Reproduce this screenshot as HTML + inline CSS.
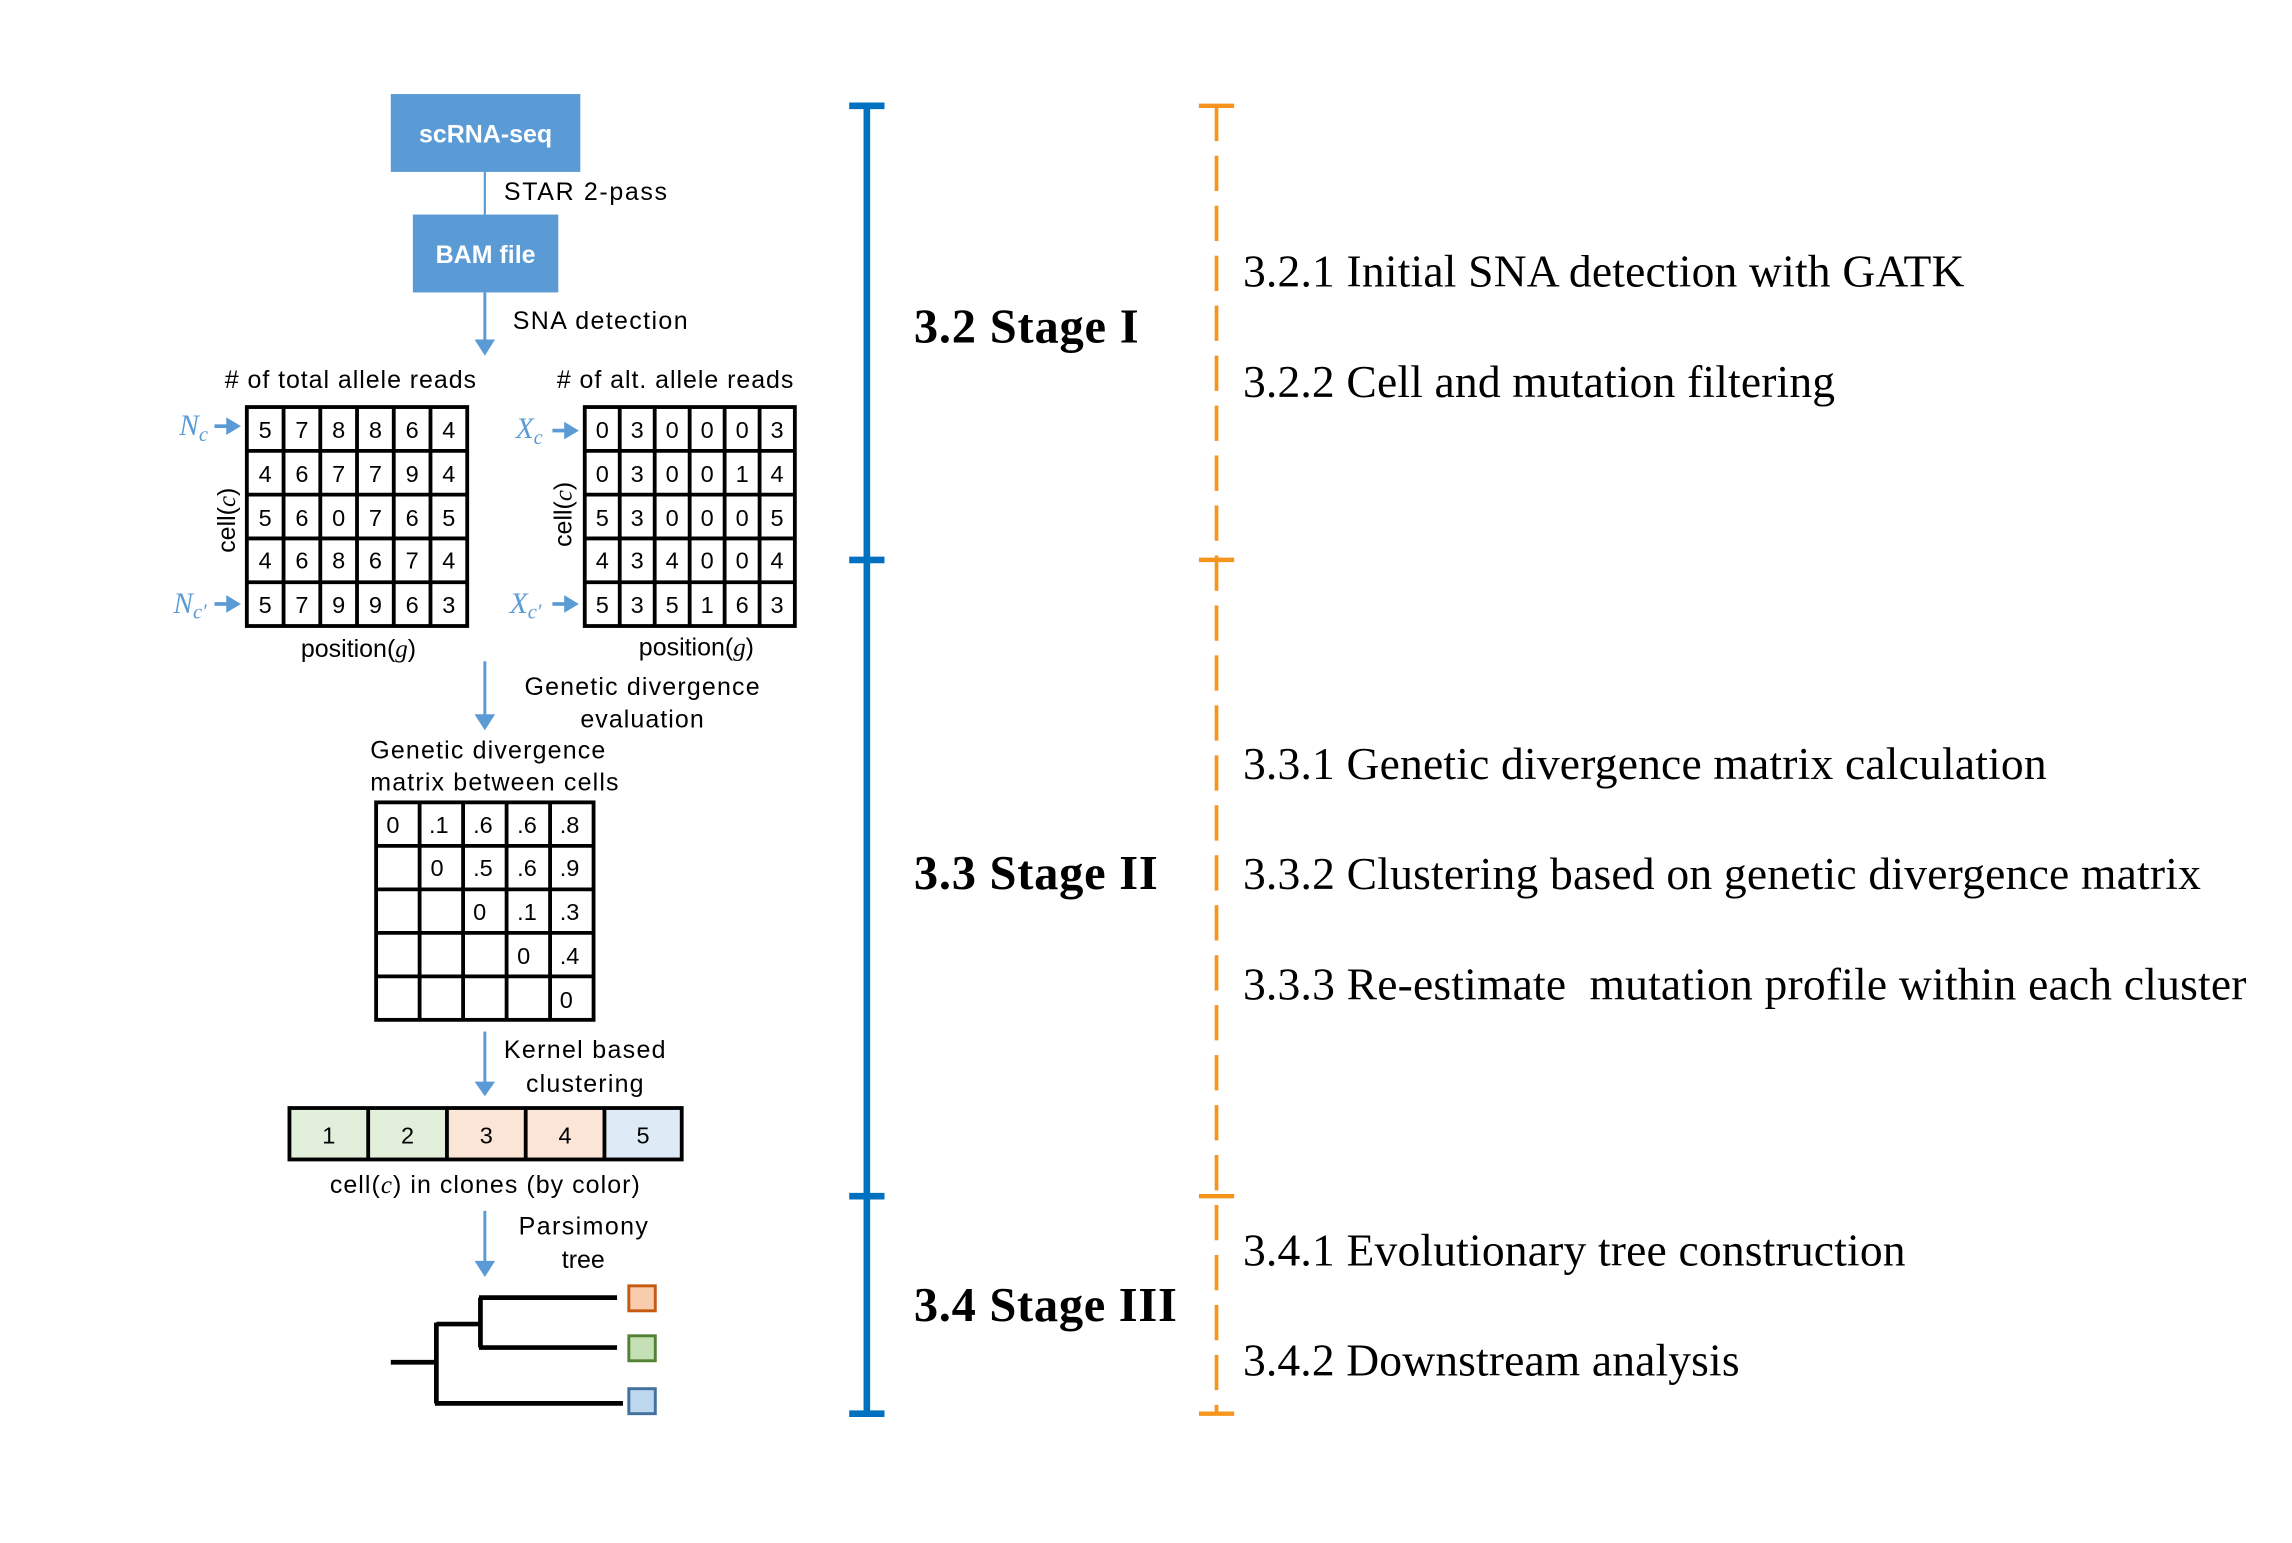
<!DOCTYPE html>
<html><head><meta charset="utf-8"><style>
html,body{margin:0;padding:0;background:#fff;width:2292px;height:1543px;overflow:hidden}
svg{display:block}
.s{font-family:"Liberation Sans",sans-serif;fill:#000}
.d{font-family:"Liberation Sans",sans-serif;font-size:16px;fill:#000;text-anchor:middle}
.r{font-family:"Liberation Serif",serif;fill:#000}
.b{font-family:"Liberation Serif",serif;font-weight:bold;fill:#000}
.m{font-family:"Liberation Serif",serif;font-style:italic;fill:#5b9bd5}
</style></head><body>
<svg width="2292" height="1543" viewBox="0 0 1560 1050" preserveAspectRatio="none" xmlns="http://www.w3.org/2000/svg">
<rect x="266" y="64" width="129" height="53" fill="#5b9bd5"/>
<text x="330.5" y="97" class="s" font-size="17" font-weight="bold" style="fill:#fff" text-anchor="middle">scRNA-seq</text>
<line x1="330" y1="117" x2="330" y2="146" stroke="#5b9bd5" stroke-width="1.5"/>
<text x="343" y="136" class="s" font-size="17" textLength="111">STAR 2-pass</text>
<rect x="281" y="146" width="99" height="53" fill="#5b9bd5"/>
<text x="330.5" y="179" class="s" font-size="17" font-weight="bold" style="fill:#fff" text-anchor="middle">BAM file</text>
<line x1="330" y1="199" x2="330" y2="234" stroke="#5b9bd5" stroke-width="2"/>
<polygon points="323,231 337,231 330,242" fill="#5b9bd5"/>
<text x="349" y="224" class="s" font-size="17" textLength="119">SNA detection</text>

<text x="153" y="264" class="s" font-size="17" textLength="171">&#35; of total allele reads</text>
<text x="379" y="264" class="s" font-size="17" textLength="161"># of alt. allele reads</text>

<g stroke="#000" stroke-width="2.6" fill="none">
<rect x="168" y="277" width="150" height="149" fill="#fff"/>
<path d="M193,277V426M218,277V426M243,277V426M268,277V426M293,277V426M168,306.8H318M168,336.6H318M168,366.4H318M168,396.2H318"/>
<rect x="398" y="277" width="143" height="149" fill="#fff"/>
<path d="M421.8,277V426M445.6,277V426M469.4,277V426M493.2,277V426M517,277V426M398,306.8H541M398,336.6H541M398,366.4H541M398,396.2H541"/>
</g>
<g class="d">
<text x="180.5" y="298">5</text><text x="205.5" y="298">7</text><text x="230.5" y="298">8</text><text x="255.5" y="298">8</text><text x="280.5" y="298">6</text><text x="305.5" y="298">4</text>
<text x="180.5" y="328">4</text><text x="205.5" y="328">6</text><text x="230.5" y="328">7</text><text x="255.5" y="328">7</text><text x="280.5" y="328">9</text><text x="305.5" y="328">4</text>
<text x="180.5" y="358">5</text><text x="205.5" y="358">6</text><text x="230.5" y="358">0</text><text x="255.5" y="358">7</text><text x="280.5" y="358">6</text><text x="305.5" y="358">5</text>
<text x="180.5" y="387">4</text><text x="205.5" y="387">6</text><text x="230.5" y="387">8</text><text x="255.5" y="387">6</text><text x="280.5" y="387">7</text><text x="305.5" y="387">4</text>
<text x="180.5" y="417">5</text><text x="205.5" y="417">7</text><text x="230.5" y="417">9</text><text x="255.5" y="417">9</text><text x="280.5" y="417">6</text><text x="305.5" y="417">3</text>
<text x="409.9" y="298">0</text><text x="433.7" y="298">3</text><text x="457.5" y="298">0</text><text x="481.3" y="298">0</text><text x="505.1" y="298">0</text><text x="528.9" y="298">3</text>
<text x="409.9" y="328">0</text><text x="433.7" y="328">3</text><text x="457.5" y="328">0</text><text x="481.3" y="328">0</text><text x="505.1" y="328">1</text><text x="528.9" y="328">4</text>
<text x="409.9" y="358">5</text><text x="433.7" y="358">3</text><text x="457.5" y="358">0</text><text x="481.3" y="358">0</text><text x="505.1" y="358">0</text><text x="528.9" y="358">5</text>
<text x="409.9" y="387">4</text><text x="433.7" y="387">3</text><text x="457.5" y="387">4</text><text x="481.3" y="387">0</text><text x="505.1" y="387">0</text><text x="528.9" y="387">4</text>
<text x="409.9" y="417">5</text><text x="433.7" y="417">3</text><text x="457.5" y="417">5</text><text x="481.3" y="417">1</text><text x="505.1" y="417">6</text><text x="528.9" y="417">3</text>
</g>
<text class="m" x="122" y="296" font-size="20">N<tspan font-size="14" dy="4">c</tspan></text>
<line x1="146" y1="290" x2="156" y2="290" stroke="#5b9bd5" stroke-width="2.5"/><polygon points="154,284 164,290 154,296" fill="#5b9bd5"/>
<text class="m" x="118" y="417" font-size="20">N<tspan font-size="14" dy="4">c′</tspan></text>
<line x1="146" y1="411" x2="156" y2="411" stroke="#5b9bd5" stroke-width="2.5"/><polygon points="154,405 164,411 154,417" fill="#5b9bd5"/>
<text class="m" x="351" y="298" font-size="20">X<tspan font-size="14" dy="4">c</tspan></text>
<line x1="376" y1="293" x2="386" y2="293" stroke="#5b9bd5" stroke-width="2.5"/><polygon points="384,287 394,293 384,299" fill="#5b9bd5"/>
<text class="m" x="347" y="417" font-size="20">X<tspan font-size="14" dy="4">c′</tspan></text>
<line x1="376" y1="411" x2="386" y2="411" stroke="#5b9bd5" stroke-width="2.5"/><polygon points="384,405 394,411 384,417" fill="#5b9bd5"/>
<text class="s" font-size="17" transform="translate(160,354) rotate(-90)" text-anchor="middle">cell(<tspan font-style="italic" font-family="Liberation Serif">c</tspan>)</text>
<text class="s" font-size="17" transform="translate(389,350) rotate(-90)" text-anchor="middle">cell(<tspan font-style="italic" font-family="Liberation Serif">c</tspan>)</text>
<text class="s" x="244" y="447" font-size="17" text-anchor="middle">position(<tspan font-style="italic" font-family="Liberation Serif">g</tspan>)</text>
<text class="s" x="474" y="446" font-size="17" text-anchor="middle">position(<tspan font-style="italic" font-family="Liberation Serif">g</tspan>)</text>

<line x1="330" y1="450" x2="330" y2="488" stroke="#5b9bd5" stroke-width="2"/>
<polygon points="323,486 337,486 330,497" fill="#5b9bd5"/>
<text class="s" x="437" y="473" font-size="17" text-anchor="middle" textLength="160">Genetic divergence</text>
<text class="s" x="437" y="495" font-size="17" text-anchor="middle" textLength="84">evaluation</text>
<text class="s" x="252" y="516" font-size="17" textLength="160">Genetic divergence</text>
<text class="s" x="252" y="538" font-size="17" textLength="169">matrix between cells</text>

<g stroke="#000" stroke-width="2.6" fill="none">
<rect x="256" y="546" width="148" height="148" fill="#fff"/>
<path d="M285.6,546V694M315.2,546V694M344.8,546V694M374.4,546V694M256,575.6H404M256,605.2H404M256,634.8H404M256,664.4H404"/>
</g>
<g class="d" style="text-anchor:start">
<text x="263" y="567">0</text><text x="292" y="567">.1</text><text x="322" y="567">.6</text><text x="352" y="567">.6</text><text x="381" y="567">.8</text>
<text x="293" y="596">0</text><text x="322" y="596">.5</text><text x="352" y="596">.6</text><text x="381" y="596">.9</text>
<text x="322" y="626">0</text><text x="352" y="626">.1</text><text x="381" y="626">.3</text>
<text x="352" y="656">0</text><text x="381" y="656">.4</text>
<text x="381" y="686">0</text>
</g>

<line x1="330" y1="702" x2="330" y2="738" stroke="#5b9bd5" stroke-width="2"/>
<polygon points="323,736 337,736 330,746" fill="#5b9bd5"/>
<text class="s" x="398" y="720" font-size="17" text-anchor="middle" textLength="110">Kernel based</text>
<text class="s" x="398" y="743" font-size="17" text-anchor="middle" textLength="80">clustering</text>

<rect x="197" y="754" width="53.6" height="35" fill="#e2efda"/>
<rect x="250.6" y="754" width="53.6" height="35" fill="#e2efda"/>
<rect x="304.2" y="754" width="53.6" height="35" fill="#fbe5d6"/>
<rect x="357.8" y="754" width="53.6" height="35" fill="#fbe5d6"/>
<rect x="411.4" y="754" width="52.6" height="35" fill="#deebf7"/>
<g stroke="#000" stroke-width="2.6" fill="none">
<rect x="197" y="754" width="267" height="35"/>
<path d="M250.6,754V789M304.2,754V789M357.8,754V789M411.4,754V789"/>
</g>
<g class="d">
<text x="223.8" y="778">1</text><text x="277.4" y="778">2</text><text x="331" y="778">3</text><text x="384.6" y="778">4</text><text x="437.7" y="778">5</text>
</g>
<text class="s" x="330" y="812" font-size="17" text-anchor="middle" textLength="211">cell(<tspan font-style="italic" font-family="Liberation Serif">c</tspan>) in clones (by color)</text>

<line x1="330" y1="824" x2="330" y2="860" stroke="#5b9bd5" stroke-width="2"/>
<polygon points="323,858 337,858 330,869" fill="#5b9bd5"/>
<text class="s" x="397" y="840" font-size="17" text-anchor="middle" textLength="88">Parsimony</text>
<text class="s" x="397" y="863" font-size="17" text-anchor="middle">tree</text>

<g stroke="#000" stroke-width="3.2" fill="none">
<path d="M266,927H297M297,900V955M297,901H327M327,883V917M326,883H420M326,917H420M296,955H424"/>
</g>
<rect x="428" y="875" width="18" height="17" fill="#f8cbad" stroke="#c55a11" stroke-width="2"/>
<rect x="428" y="909" width="18" height="17" fill="#c5e0b4" stroke="#548235" stroke-width="2"/>
<rect x="428" y="945" width="18" height="17" fill="#bdd7ee" stroke="#41719c" stroke-width="2"/>

<g stroke="#0070c0" stroke-width="4.5">
<line x1="590" y1="72" x2="590" y2="962"/>
<line x1="578" y1="72" x2="602" y2="72"/>
<line x1="578" y1="381" x2="602" y2="381"/>
<line x1="578" y1="814" x2="602" y2="814"/>
<line x1="578" y1="962" x2="602" y2="962"/>
</g>
<g stroke="#f7941d" stroke-width="3">
<line x1="828" y1="72" x2="828" y2="962" stroke-dasharray="24,10" stroke-width="2.5"/>
<line x1="816" y1="72" x2="840" y2="72"/>
<line x1="816" y1="381" x2="840" y2="381"/>
<line x1="816" y1="814" x2="840" y2="814"/>
<line x1="816" y1="962" x2="840" y2="962"/>
</g>

<text class="b" x="622" y="233" font-size="33" textLength="153">3.2 Stage I</text>
<text class="b" x="622" y="605" font-size="33" textLength="166">3.3 Stage II</text>
<text class="b" x="622" y="899" font-size="33" textLength="179">3.4 Stage III</text>

<g class="r" font-size="31">
<text x="846" y="195" textLength="491">3.2.1 Initial SNA detection with GATK</text>
<text x="846" y="270" textLength="403">3.2.2 Cell and mutation filtering</text>
<text x="846" y="530" textLength="547">3.3.1 Genetic divergence matrix calculation</text>
<text x="846" y="605" textLength="652">3.3.2 Clustering based on genetic divergence matrix</text>
<text x="846" y="680" textLength="683" xml:space="preserve">3.3.3 Re-estimate  mutation profile within each cluster</text>
<text x="846" y="861" textLength="451">3.4.1 Evolutionary tree construction</text>
<text x="846" y="936" textLength="338">3.4.2 Downstream analysis</text>
</g>
</svg>
</body></html>
